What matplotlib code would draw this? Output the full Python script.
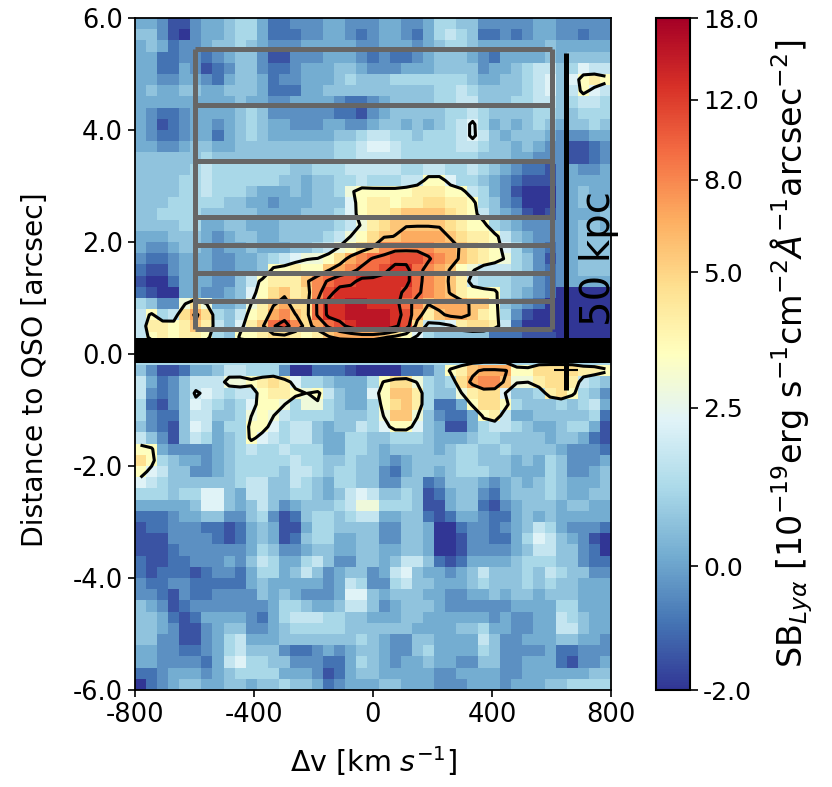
import numpy as np
import matplotlib
matplotlib.use("Agg")
import matplotlib.pyplot as plt
from matplotlib.colors import FuncNorm

plt.rcParams['axes.unicode_minus'] = False
plt.rcParams['font.family'] = 'DejaVu Sans'

# Surface brightness map, as colour-scale steps (0..k = 0..1 of the colour bar, in 1/20ths)
ROWS_ABOVE_QSO = [
"4431134456 6422333443 3344334665 5333334433 333",
"5531034456 6422233443 2344324676 5223234433 233",
"4542334556 5433344444 3344434566 5444444544 444",
"4422332345 5311333444 3232234555 4324444545 555",
"4422431235 5322344455 4333444555 5344567756 877",
"4433443245 5423344456 5556666666 5445567858 aba",
"4544554455 5422244555 5555555667 6555567857 a87",
"4444444445 4433444432 2345555667 7555667756 776",
"4322344445 6533333322 1345555566 7655556655 666",
"4312344345 6544333443 3455454567 8645456545 565",
"4322344245 6544444455 6776656667 8754555433 344",
"4433455445 5555555566 7887666667 7655454331 123",
"5555556555 5555555566 7777666666 6555443331 123",
"5555567666 6666556667 7777667766 7654322134 334",
"5555667666 6665545566 7666 77aa86 6543211134 444",
"5555667666 5444545569 aaaaabbbaa 7643100034 544",
"5556666655 4434445558 abbabbccbb a653200034 544",
"5566665555 5444455568 abbcddddcb a754310134 445",
"5555664455 4445555567 9bcdddddcb aa65433334 554",
"4445554345 5445555679 acddeeeedc bba7543334 555",
"4334554344 544455679a cdfffffeed cba8643234 555",
"3223444334 4567899ace fgghhhgfed cba9653134 555",
"2113444334 45aabaadef gghiigfeda 9777653234 555",
"1002444335 7abbbdfghh iiiiigfedb 7666553234 444",
"2100443345 8acdbcfhii iiiihgfedb aaa6543200 000",
"6533 9c9 445 9bdeccgiij jiiigfdeee dda5432000 000",
"7a67cec657 abefdcgiij jjjihebdee dba6310000 000",
"7bbabdb758 bdghfceghi jjjihc778b ccb7200000 000",
"7ababba65a abccbabdee eedca86555 5522211100 000",
]
ROWS_BAND = [
"6666666666 6666666666 6666666666 6666666666 666",
"6666666666 6666666666 6666666666 6666666666 666",
]
ROWS_BELOW_QSO = [
"5311244577 6663002221 0000223 5ab deeeaacccc bba",
"7423577799 abcb866544 46acc9656c effd99bccb 765",
"7323578767 7abba9a754 48addb6559 bcc8556bca 653",
"6213587656 8aa9699654 46acdb6224 acca655565 674",
"6322577556 9a97666655 569dd95322 4ab7445555 562",
"5321587466 aa86775455 768aa85411 4677654456 641",
"7531576456 a876775446 6556665444 5665555455 421",
"aa43333456 7667666446 6545555456 6556555543 332",
"ca65443456 6666766556 5543455556 6555454653 334",
"a875533456 6665776566 5532455456 6655444653 345",
"8765555556 7755765466 5533552355 5434545654 445",
"6665668854 7755665457 8755651245 5324555654 455",
"4444458854 5753455567 9966651145 5213455545 544",
"2223445533 5631256656 7744552124 4322454544 444",
"1223332212 4541146655 5533554002 3323457643 332",
"1113333212 4541256644 5533554001 3322468754 310",
"1112333333 4653345544 5544554001 3333457755 320",
"2112233343 5764467533 5545775212 4444566655 322",
"2122212332 4664575345 5347854434 5755565765 533",
"3223322222 4544444347 6336755444 5655565655 444",
"3321322333 3545433348 8545554433 4454554555 444",
"5431233333 3346654457 7534555433 3333444466 444",
"5542124444 3246777665 5444554444 4434334476 544",
"5543113455 3345666665 5555544445 5644334477 544",
"5533113467 4445555555 6543355444 4753344455 443",
"4433223467 5553223434 5543356444 4653333422 333",
"4433332478 6655333224 6543445443 3553344421 334",
"2234443456 6664443124 5544444334 4443344444 455",
"0234554455 4556554234 4455444333 4443444556 666",
]
LEVEL_CHARS = "0123456789abcdefghijk"

# Colour bar: tick values and where they sit along the bar
CBAR_TICKS = [-2.0, 0.0, 2.5, 5.0, 8.0, 12.0, 18.0]
CBAR_LABELS = ['-2.0', '0.0', '2.5', '5.0', '8.0', '12.0', '18.0']
CBAR_FRACS = [0.0, 0.1845, 0.42, 0.622, 0.759, 0.878, 1.0]

CONTOUR_LEVELS = [2.8, 5.8, 8.8, 11.8]
# faint peaks that only the contours show: (row, column, value)
CONTOUR_PEAKS = [(9, 30, 3.2), (10, 30, 3.2), (33, 5, 3.2), (32, 8, 3.6), (32, 9, 3.6)]
GRID_LINES_Y = [0.45, 0.95, 1.45, 1.95, 2.45, 3.45, 4.45, 5.45]
GRID_EDGE_X = [-600, 600]
SCALE_BAR_X = 650
SCALE_BAR_Y = [-0.64, 5.38]
BAND_Y = [-0.16, 0.286]


def parse(rows):
    out = []
    for r in rows:
        r = r.replace(" ", "")
        r = (r + r[-1] * 43)[:43]
        out.append([LEVEL_CHARS.index(c) / 20.0 for c in r])
    return out


norm = FuncNorm((lambda v: np.interp(v, CBAR_TICKS, CBAR_FRACS),
                 lambda f: np.interp(f, CBAR_FRACS, CBAR_TICKS)),
                vmin=-2.0, vmax=18.0)

fracs = np.array(parse(ROWS_ABOVE_QSO) + parse(ROWS_BAND) + parse(ROWS_BELOW_QSO))
values = np.interp(fracs, CBAR_FRACS, CBAR_TICKS)
ny, nx = values.shape

W, H = 832, 787
fig = plt.figure(figsize=(W / 100, H / 100), dpi=100)
ax = fig.add_axes([135 / W, 1 - 690 / H, 476 / W, 672 / H])
cax = fig.add_axes([656 / W, 1 - 690 / H, 34 / W, 672 / H])

im = ax.imshow(values, cmap='RdYlBu_r', norm=norm, extent=[-800, 800, -6, 6],
               aspect='auto', interpolation='nearest', origin='upper')

# contours on a lightly smoothed copy of the map
k = np.array([1, 2, 1]) / 4.0
pad = np.pad(values, 1, mode='edge')
sm = np.apply_along_axis(lambda a: np.convolve(a, k, mode='same'), 0, pad)
sm = np.apply_along_axis(lambda a: np.convolve(a, k, mode='same'), 1, sm)[1:-1, 1:-1]
sm = 0.35 * sm + 0.65 * values
for r, c, v in CONTOUR_PEAKS:
    sm[r, c] = v
xc = -800 + (np.arange(nx) + 0.5) * 1600 / nx
yc = 6 - (np.arange(ny) + 0.5) * 12 / ny
ax.contour(xc, yc, sm, levels=CONTOUR_LEVELS, colors='k', linewidths=2.2)

# grey extraction boxes
GREY = '#666666'
ax.hlines(GRID_LINES_Y, GRID_EDGE_X[0], GRID_EDGE_X[1], colors=GREY, linewidth=3.6)
ax.vlines(GRID_EDGE_X, min(GRID_LINES_Y), max(GRID_LINES_Y), colors=GREY, linewidth=3.6)

ax.axhspan(BAND_Y[0], BAND_Y[1], color='k', lw=0, zorder=4)
ax.vlines(SCALE_BAR_X, SCALE_BAR_Y[0], SCALE_BAR_Y[1], colors='k', linewidth=3.6, zorder=5)
ax.hlines(-0.29, 610, 690, colors='k', linewidth=1.5, zorder=5)
ax.text(760, 1.7, '50 kpc', rotation=90, fontsize=29, color='k', ha='center', va='center',
        clip_on=False, zorder=6)

ax.set_xlim(-800, 800)
ax.set_ylim(-6, 6)
ax.set_xticks([-800, -400, 0, 400, 800])
ax.set_xticklabels(['-800', '-400', '0', '400', '800'])
ax.set_yticks([-6, -4, -2, 0, 2, 4, 6])
ax.set_yticklabels(['-6.0', '-4.0', '-2.0', '0.0', '2.0', '4.0', '6.0'])
ax.tick_params(labelsize=18.5, length=5, width=1.2)
ax.set_xlabel(r'$\Delta$v [km $s^{-1}$]', fontsize=20.5, labelpad=12)
ax.set_ylabel('Distance to QSO [arcsec]', fontsize=20.3, labelpad=17, y=0.476)
for s in ax.spines.values():
    s.set_linewidth(1.3)

cb = fig.colorbar(im, cax=cax)
cb.set_ticks(CBAR_TICKS)
cb.set_ticklabels(CBAR_LABELS)
cb.ax.minorticks_off()
cax.tick_params(labelsize=18, length=6, width=1.2)
cb.set_label(r'SB$_{Ly\alpha}$ [10$^{-19}$erg s$^{-1}$cm$^{-2}\AA^{-1}$arcsec$^{-2}$]',
             fontsize=24, labelpad=7)
cb.outline.set_linewidth(1.5)

fig.savefig('out.png', dpi=100)
